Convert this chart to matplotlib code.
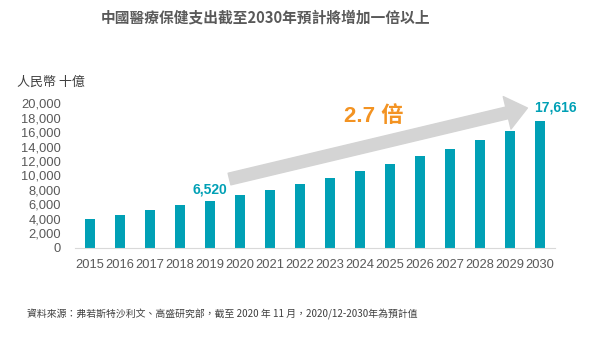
import matplotlib.pyplot as plt

years = [str(y) for y in range(2015, 2031)]
spend = [4010, 4530, 5200, 5880, 6520, 7260, 7990, 8820, 9650, 10580,
         11630, 12660, 13710, 14920, 16160, 17616]
y_ticks = list(range(0, 20001, 2000))
y_tick_labels = [f"{v:,}" for v in y_ticks]

title = "中國醫療保健支出截至2030年預計將增加一倍以上"
unit = "人民幣 十億"
source = "資料來源：弗若斯特沙利文、高盛研究部，截至 2020 年 11 月，2020/12-2030年為預計值"

teal = "#00a0b5"
grey_txt = "#595959"
cjk = ["Noto Sans CJK TC", "DejaVu Sans"]
latin = ["Liberation Sans", "Noto Sans CJK TC"]

fig = plt.figure(figsize=(6.03, 3.37), dpi=100)
ax = fig.add_axes([75 / 603, 1 - 247.7 / 337, 480 / 603, 144.4 / 337])

x = list(range(len(years)))
ax.bar(x, spend, width=0.33, color=teal)
ax.set_xlim(-0.5, len(years) - 0.5)
ax.set_ylim(0, 20000)

ax.set_yticks(y_ticks)
ax.set_yticklabels(y_tick_labels, family=latin, fontsize=9.3, color=grey_txt)
ax.set_xticks(x)
ax.set_xticklabels(years, family=latin, fontsize=9.3, color=grey_txt)
ax.tick_params(length=0, pad=8)
ax.tick_params(axis="y", pad=10)
for s in ["top", "right", "left"]:
    ax.spines[s].set_visible(False)
ax.spines["bottom"].set_color("#d9d9d9")

# value labels
ax.text(4, spend[4] + 1600, "6,520", ha="center", va="center",
        family=latin, fontsize=10, fontweight="bold", color=teal)
ax.text(15.5, spend[15] + 1750, "17,616", ha="center", va="center",
        family=latin, fontsize=10, fontweight="bold", color=teal, clip_on=False)

# growth arrow
ax.annotate("", xy=(14.58, 19350), xytext=(4.65, 9510),
            arrowprops=dict(arrowstyle="simple,head_length=1.5,head_width=2.4,tail_width=0.86",
                            mutation_scale=10, color="#d4d4d4", shrinkA=0, shrinkB=0),
            annotation_clip=False)
ax.text(9.45, 18200, "2.7 倍", ha="center", va="center", family=latin,
        fontsize=16, fontweight="bold", color="#f39322", clip_on=False)

fig.text(266 / 603, 1 - 17 / 337, title, ha="center", va="center", family=cjk,
         fontsize=10.6, fontweight="bold", color=grey_txt)
fig.text(17 / 603, 1 - 82 / 337, unit, ha="left", va="center", family=cjk,
         fontsize=9.4, color="#404040")
fig.text(27 / 603, 1 - 314 / 337, source, ha="left", va="center", family=cjk,
         fontsize=7.1, color="#404040")

fig.savefig("out.png", dpi=100)
